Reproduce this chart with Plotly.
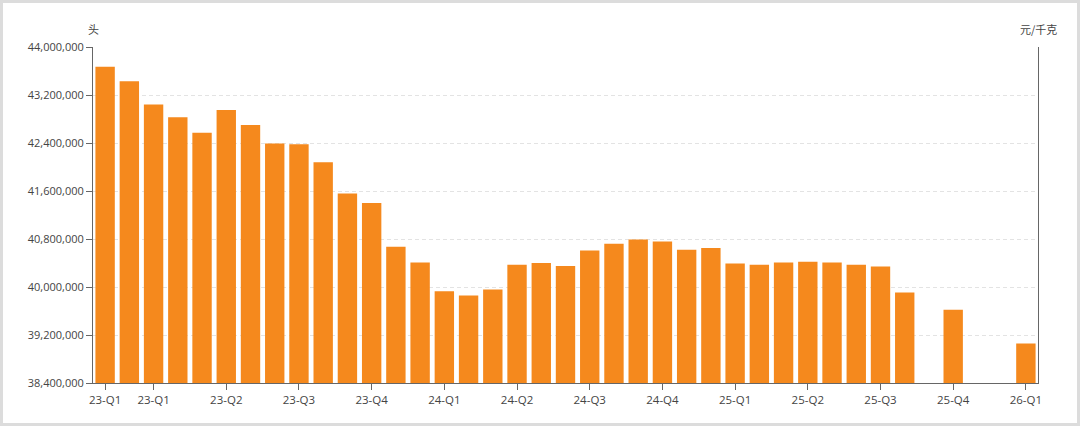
import plotly.graph_objects as go

# monthly slots, ticks only on quarter labels
slots = list(range(39))
values = [
    43670000, 43430000, 43040000, 42830000, 42570000, 42950000, 42700000,
    42390000, 42380000, 42080000, 41560000, 41400000, 40670000, 40410000,
    39930000, 39860000, 39960000, 40370000, 40400000, 40350000, 40610000,
    40720000, 40790000, 40760000, 40620000, 40650000, 40390000, 40370000,
    40410000, 40420000, 40410000, 40370000, 40340000, 39910000, None,
    39620000, None, None, 39060000,
]
tick_pos = [0, 2, 5, 8, 11, 14, 17, 20, 23, 26, 29, 32, 35, 38]
tick_text = ["23-Q1", "23-Q1", "23-Q2", "23-Q3", "23-Q4", "24-Q1", "24-Q2",
             "24-Q3", "24-Q4", "25-Q1", "25-Q2", "25-Q3", "25-Q4", "26-Q1"]
y_ticks = [38400000, 39200000, 40000000, 40800000, 41600000, 42400000,
           43200000, 44000000]

W, H = 1080, 426
L, R, T, B = 93, 42, 47, 43
pw, ph = W - L - R, H - T - B


def px(x):
    return (x - L) / pw


def py(y):
    return 1 - (y - T) / ph


fig = go.Figure()
fig.add_trace(go.Bar(
    x=slots, y=values,
    marker=dict(color="#F5891D", line_width=0),
    hoverinfo="y",
))

font = "Open Sans, Noto Sans CJK SC, sans-serif"
fig.update_layout(
    width=W, height=H,
    margin=dict(l=L, r=R, t=T, b=B),
    paper_bgcolor="white", plot_bgcolor="white",
    bargap=0.2, showlegend=False,
    font=dict(family=font, size=11, color="#444"),
    xaxis=dict(
        range=[-0.5, 38.5], tickvals=tick_pos, ticktext=tick_text,
        showgrid=False, zeroline=False,
        showline=True, linecolor="#666", linewidth=1,
        ticks="outside", ticklen=6, tickcolor="#666",
        tickfont=dict(size=11.5, color="#444"),
    ),
    yaxis=dict(
        range=[38400000, 44000000], tickvals=y_ticks,
        tickformat=",d",
        showgrid=True, gridcolor="#e3e3e3", griddash="4px,3px", gridwidth=1,
        zeroline=False,
        showline=True, linecolor="#666", linewidth=1, mirror=True,
        ticks="outside", ticklen=6, tickcolor="#666",
        tickfont=dict(size=11, color="#444"),
    ),
    annotations=[
        dict(text="头", x=px(93), y=py(29), xref="paper", yref="paper",
             xanchor="center", yanchor="middle", showarrow=False,
             font=dict(size=11, color="#444", family="Noto Sans CJK SC")),
        dict(text="元/千克", x=px(1038), y=py(29), xref="paper", yref="paper",
             xanchor="center", yanchor="middle", showarrow=False,
             font=dict(size=11, color="#444", family="Noto Sans CJK SC")),
    ],
    shapes=[
        dict(type="rect", xref="paper", yref="paper",
             x0=px(1.5), x1=px(W - 1.5), y0=py(H - 1.5), y1=py(1.5),
             line=dict(color="#dcdcdc", width=3), layer="below"),
    ],
)

# drop the default page margin so the figure sits at the window corner
fig.write_html("out.html", config={"displayModeBar": False},
               post_script="document.body.style.margin='0';")
